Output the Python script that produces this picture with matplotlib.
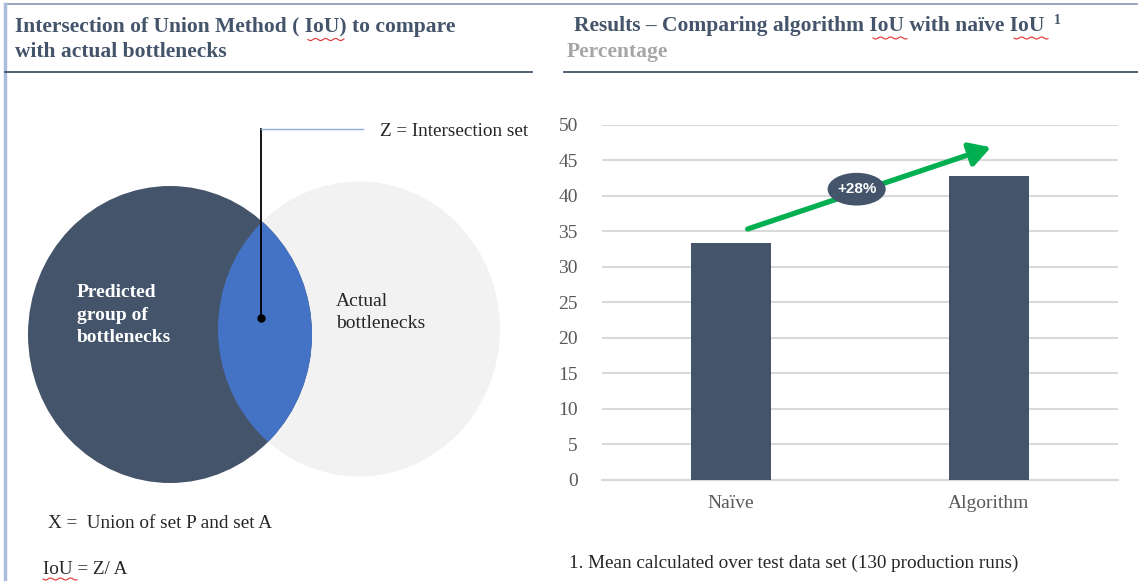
import matplotlib
matplotlib.use("Agg")
import numpy as np
import matplotlib.pyplot as plt
from matplotlib.patches import Ellipse

# bar chart data
categories = ["Naïve", "Algorithm"]
iou_values = [33.3, 42.7]
y_ticks = [0, 5, 10, 15, 20, 25, 30, 35, 40, 45, 50]
change_label = "+28%"

left_title = "Intersection of Union Method ( IoU) to compare\nwith actual bottlenecks"
right_title = "Results – Comparing algorithm IoU with naïve IoU"
right_subtitle = "Percentage"
footnote = "1. Mean calculated over test data set (130 production runs)"

DARK = "#44546A"
BLUE = "#4472C4"
LIGHT = "#F2F2F2"
GREEN = "#00B050"
SERIF = "Liberation Serif"

W, H = 1138, 581
fig = plt.figure(figsize=(W / 100, H / 100), dpi=100)

# background layer in pixel coordinates (slide frame + Venn diagram)
bg = fig.add_axes([0, 0, 1, 1])
bg.set_xlim(0, W)
bg.set_ylim(H, 0)
bg.axis("off")

# frame lines
bg.plot([5, W], [4, 4], color="#8497B0", lw=1.2)
bg.plot([5, 5], [4, H], color="#A9BCDB", lw=2.5)
bg.plot([5, 532], [72, 72], color=DARK, lw=1.3)
bg.plot([564, W], [72, 72], color=DARK, lw=1.3)

# titles
bg.text(15, 39.5, left_title, family=SERIF, weight="bold", fontsize=15.5,
        color=DARK, va="center", ha="left", linespacing=1.35)
bg.text(574, 26, right_title, family=SERIF, weight="bold", fontsize=15.5,
        color=DARK, va="center", ha="left")
bg.text(1054, 20, "1", family=SERIF, weight="bold", fontsize=10,
        color=DARK, va="center", ha="left")
bg.text(567, 52, right_subtitle, family=SERIF, weight="bold", fontsize=15.5,
        color="#A6A6A6", va="center", ha="left")


def squiggle(x0, x1, y0):
    # spell-check style wavy underline
    xs = np.linspace(x0, x1, 60)
    bg.plot(xs, y0 + 1.0 * np.sin((xs - x0) / 1.6), color="#E03030", lw=0.8, zorder=6)


squiggle(308, 344, 39.5)
squiggle(873, 907, 38)
squiggle(1014, 1048, 38)
squiggle(43, 77, 579)

# Venn diagram
pred = Ellipse((170, 334.5), 284, 297, facecolor=DARK, edgecolor="none", zorder=2)
actual = Ellipse((359, 329), 282, 295, facecolor=LIGHT, edgecolor="none", zorder=1)
bg.add_patch(actual)
bg.add_patch(pred)
lens = Ellipse((359, 329), 282, 295, facecolor=BLUE, edgecolor="none", zorder=3)
bg.add_patch(lens)
lens.set_clip_path(pred)

# callout for the intersection
bg.plot([261, 261], [318, 129], color="black", lw=1.3, zorder=4)
bg.plot([261, 363], [129, 129], color="#8FAADC", lw=1.0, zorder=4)
bg.plot([261], [318], "o", color="black", ms=5, zorder=5)
bg.text(380, 131, "Z = Intersection set", family=SERIF, fontsize=13.8,
        color="#262626", va="center", ha="left")

bg.text(77, 315, "Predicted\ngroup of\nbottlenecks", family=SERIF, weight="bold",
        fontsize=14, color="white", va="center", ha="left", linespacing=1.45, zorder=5)
bg.text(336, 312.5, "Actual\nbottlenecks", family=SERIF, fontsize=14,
        color="#262626", va="center", ha="left", linespacing=1.35, zorder=5)

bg.text(48, 523, "X =  Union of set P and set A", family=SERIF, fontsize=13.8,
        color="#262626", va="center", ha="left")
bg.text(43, 570, "IoU = Z/ A", family=SERIF, fontsize=13.8,
        color="#262626", va="center", ha="left")
bg.text(569, 563, footnote, family=SERIF, fontsize=13.8,
        color="#262626", va="center", ha="left")

# bar chart
ax = fig.add_axes([601.5 / W, 1 - 480 / H, (1118 - 601.5) / W, (480 - 124.5) / H])
ax.set_facecolor("none")
x = list(range(len(categories)))
ax.bar(x, iou_values, width=0.31, color=DARK, zorder=3)
ax.set_xlim(-0.5, 1.5)
ax.set_ylim(0, 50)
ax.set_yticks(y_ticks)
ax.set_xticks(x)
ax.set_xticklabels(categories)
ax.grid(axis="y", color="#D9D9D9", lw=1.5, zorder=0)
for s in ["top", "right", "left"]:
    ax.spines[s].set_visible(False)
ax.spines["bottom"].set_color("#D9D9D9")
ax.spines["bottom"].set_linewidth(1.5)
ax.tick_params(length=0, labelsize=14, labelcolor="#595959")
ax.tick_params(axis="y", pad=17)
ax.tick_params(axis="x", pad=11)
for lbl in ax.get_xticklabels() + ax.get_yticklabels():
    lbl.set_family(SERIF)

# growth arrow and label
ax.annotate("", xy=(1.008, iou_values[1] + 4.1), xytext=(0.066, iou_values[0] + 2.0),
            arrowprops=dict(arrowstyle="-|>,head_length=0.7,head_width=0.4",
                            color=GREEN, lw=3.8, mutation_scale=18, shrinkA=0, shrinkB=0),
            zorder=5)
ax.add_patch(Ellipse((0.488, 40.9), 0.225, 4.6, facecolor=DARK, edgecolor="none", zorder=6))
ax.text(0.488, 40.9, change_label, family="Liberation Sans", weight="bold", fontsize=11,
        color="white", ha="center", va="center", zorder=7)

fig.savefig("out.png", dpi=100)
